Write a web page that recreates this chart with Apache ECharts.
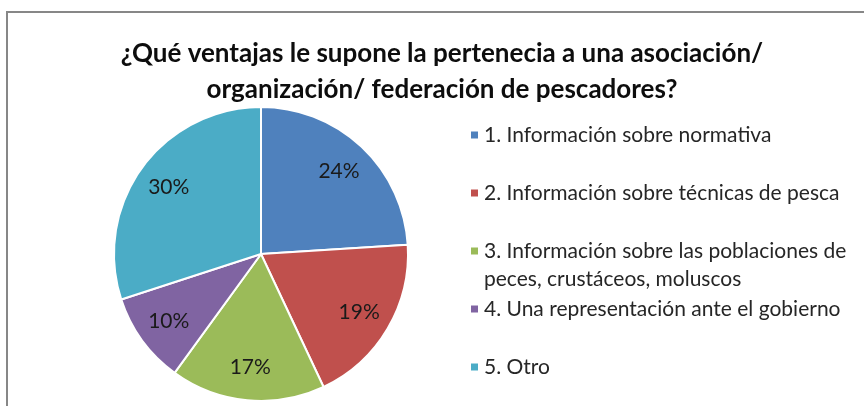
<!DOCTYPE html>
<html>
<head>
<meta charset="utf-8">
<script src="https://cdn.jsdelivr.net/npm/echarts@6/dist/echarts.min.js"></script>
<style>
  html, body { margin: 0; padding: 0; background: #fff; }
  #chart { width: 864px; height: 406px; }
</style>
</head>
<body>
<div id="chart"></div>
<script>
// --- data ----------------------------------------------------------
var titleText = '¿Qué ventajas le supone la pertenecia a una asociación/\norganización/ federación de pescadores?';
var categories = [
	'1. Información sobre normativa',
	'2. Información sobre técnicas de pesca',
	'3. Información sobre las poblaciones de peces, crustáceos, moluscos',
	'4. Una representación ante el gobierno',
	'5. Otro'
];
var legendLines = [
	'1. Información sobre normativa',
	'2. Información sobre técnicas de pesca',
	'3. Información sobre las poblaciones de\npeces, crustáceos, moluscos',
	'4. Una representación ante el gobierno',
	'5. Otro'
];
var values = [24, 19, 17, 10, 30];
var colors = ['#4F81BD', '#C0504D', '#9BBB59', '#8064A2', '#4BACC6'];

var FONT = 'Lato';

var pieData = categories.map(function (name, i) {
	return { name: name, value: values[i], itemStyle: { color: colors[i] } };
});

// one legend per item so the wrapped item keeps the same pitch
// (wrapped text gets an empty first line so its first real line sits beside the swatch)
var legends = categories.map(function (name, i) {
	var wrapped = legendLines[i].indexOf('\n') >= 0;
	return {
		data: [name],
		orient: 'vertical',
		left: 469,
		top: wrapped ? 121 + i * 58 - 28 : 121 + i * 58,
		icon: 'rect',
		itemWidth: 9,
		itemHeight: 9,
		padding: 0,
		selectedMode: false,
		formatter: function () { return wrapped ? '\n' + legendLines[i] : legendLines[i]; },
		textStyle: {
			fontFamily: FONT,
			fontSize: 21,
			color: '#262626',
			lineHeight: 28
		}
	};
});

var chart = echarts.init(document.getElementById('chart'));

var option = {
	backgroundColor: '#fff',
	animation: false,
	title: {
		text: titleText,
		left: 437,
		top: 31,
		textAlign: 'center',
		textStyle: {
			fontFamily: FONT,
			fontWeight: 'bold',
			fontSize: 26,
			lineHeight: 36,
			color: '#0d0d0d'
		}
	},
	graphic: [{
		type: 'rect',
		silent: true,
		shape: { x: 7, y: 12, width: 900, height: 500 },
		style: { fill: 'none', stroke: '#878787', lineWidth: 2 }
	}],
	legend: legends,
	series: [
		{
			name: 'pie',
			type: 'pie',
			center: [261, 254],
			radius: [0, 147],
			startAngle: 90,
			clockwise: true,
			silent: true,
			data: pieData,
			itemStyle: { borderColor: '#fff', borderWidth: 2 },
			label: { show: false },
			labelLine: { show: false }
		},
		{
			// transparent twin ring that only carries the percentage labels
			name: 'labels',
			type: 'pie',
			center: [261, 254],
			radius: [78, 144],
			startAngle: 90,
			clockwise: true,
			silent: true,
			data: pieData.map(function (d) {
				return { name: d.name, value: d.value, itemStyle: { color: 'rgba(0,0,0,0)' } };
			}),
			itemStyle: { borderWidth: 0 },
			emphasis: { disabled: true },
			label: {
				show: true,
				position: 'inside',
				formatter: '{c}%',
				fontFamily: FONT,
				fontSize: 21,
				color: '#1a1a1a'
			},
			labelLine: { show: false }
		}
	]
};

chart.setOption(option);
</script>
</body>
</html>
